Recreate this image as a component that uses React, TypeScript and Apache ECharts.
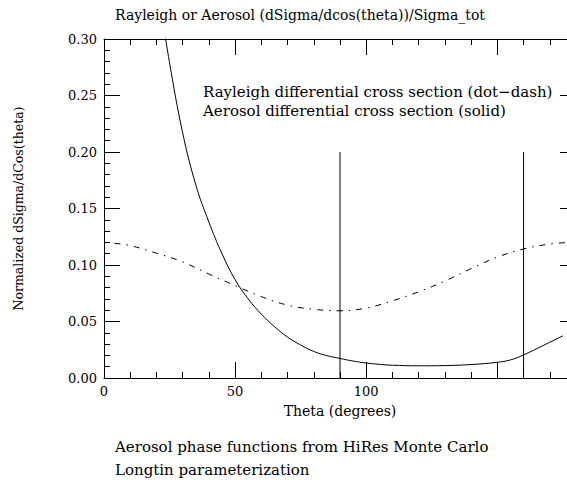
import React, { useEffect, useRef } from "react";
import * as echarts from "echarts";

const rayleighTheta = [4, 10, 20, 30, 40, 50, 60, 70, 80, 90, 100, 110, 120, 130, 140, 150, 160, 170, 176];
const rayleighValue = [0.1192, 0.1172, 0.1105, 0.1027, 0.092, 0.0818, 0.072, 0.0645, 0.0608, 0.0595, 0.0619, 0.0683, 0.0763, 0.0858, 0.0968, 0.107, 0.1142, 0.1185, 0.1198];

const aerosolTheta = [20, 25, 30, 35, 40, 45, 50, 55, 60, 65, 70, 75, 80, 85, 90, 95, 100, 105, 110, 120, 130, 140, 150, 155, 160, 167.5, 175];
const aerosolValue = [0.352, 0.279, 0.217, 0.171, 0.138, 0.11, 0.087, 0.07, 0.0565, 0.0455, 0.0362, 0.0292, 0.0235, 0.0198, 0.0173, 0.015, 0.0133, 0.0121, 0.0113, 0.0108, 0.011, 0.0119, 0.0139, 0.016, 0.0204, 0.0288, 0.0373];

const markerTheta = [90, 160];
const markerTop = 0.2;

const xLabels = [0, 50, 100, 150];

const titleText = "Rayleigh or Aerosol (dSigma/dcos(theta))/Sigma_tot";
const yName = "Normalized dSigma/dCos(theta)";
const xName = "Theta (degrees)";
const legendLines = [
  "Rayleigh differential cross section (dot\u2212dash)",
  "Aerosol differential cross section (solid)",
];
const footLines = [
  "Aerosol phase functions from HiRes Monte Carlo",
  "Longtin parameterization",
];

const FONT = "DejaVu Serif";
const INK = "#000";

export default function App() {
  const ref = useRef<HTMLDivElement>(null);
  useEffect(() => {
    if (!ref.current) return;
    document.body.style.overflow = "hidden";
    const chart = echarts.init(ref.current, undefined, { renderer: "svg" });
    const grid = { left: 104, top: 39, width: 472, height: 339 };
    const baseX = {
      type: "value" as const,
      min: 0,
      max: 180,
      gridIndex: 0,
      splitLine: { show: false },
      axisLine: { show: true, onZero: false, lineStyle: { color: INK, width: 1 } },
    };
    const xAxes = [
      {
        ...baseX,
        position: "bottom",
        interval: 10,
        axisTick: { show: true, inside: true, length: 6, lineStyle: { color: INK } },
        axisLabel: {
          show: true,
          customValues: xLabels,
          color: INK,
          fontFamily: FONT,
          fontSize: 13,
          margin: 7,
          showMaxLabel: false,
        },
        name: xName,
        nameLocation: "middle",
        nameGap: 26,
        nameTextStyle: { color: INK, fontFamily: FONT, fontSize: 14 },
      },
      {
        ...baseX,
        position: "bottom",
        interval: 50,
        axisLine: { show: false, onZero: false },
        axisTick: { show: true, inside: true, length: 16, lineStyle: { color: INK } },
        axisLabel: { show: false },
      },
      {
        ...baseX,
        position: "top",
        interval: 10,
        axisTick: { show: true, inside: true, length: 6, lineStyle: { color: INK } },
        axisLabel: { show: false },
      },
      {
        ...baseX,
        position: "top",
        interval: 50,
        axisLine: { show: false, onZero: false },
        axisTick: { show: true, inside: true, length: 16, lineStyle: { color: INK } },
        axisLabel: { show: false },
      },
    ];
    const baseY = {
      type: "value" as const,
      min: 0,
      max: 0.3,
      interval: 0.05,
      splitLine: { show: false },
      axisLine: { show: true, onZero: false, lineStyle: { color: INK, width: 1 } },
      axisTick: { show: true, inside: true, length: 16, lineStyle: { color: INK } },
      minorTick: { show: true, splitNumber: 5, length: 6, lineStyle: { color: INK } },
    };
    const yAxes = [
      {
        ...baseY,
        position: "left",
        axisLabel: {
          show: true,
          color: INK,
          fontFamily: FONT,
          fontSize: 13,
          margin: 7,
          formatter: (v: number) => v.toFixed(2),
        },
        name: yName,
        nameLocation: "middle",
        nameGap: 79,
        nameTextStyle: { color: INK, fontFamily: FONT, fontSize: 12.5 },
      },
      {
        ...baseY,
        position: "right",
        axisLabel: { show: false },
      },
    ];
    const series: any[] = [
      {
        type: "line",
        xAxisIndex: 0,
        yAxisIndex: 0,
        data: rayleighTheta.map((t, i) => [t, rayleighValue[i]]),
        showSymbol: false,
        smooth: 0.4,
        lineStyle: { color: INK, width: 1, type: [6, 6, 1.5, 6] },
        clip: true,
      },
      {
        type: "line",
        xAxisIndex: 0,
        yAxisIndex: 0,
        data: aerosolTheta.map((t, i) => [t, aerosolValue[i]]),
        showSymbol: false,
        smooth: 0.4,
        lineStyle: { color: INK, width: 1 },
        clip: true,
      },
      ...markerTheta.map((t) => ({
        type: "line",
        xAxisIndex: 0,
        yAxisIndex: 0,
        data: [
          [t, 0],
          [t, markerTop],
        ],
        showSymbol: false,
        lineStyle: { color: INK, width: 1 },
      })),
    ];
    const textStyle = (text: string, align: string, size: number) => ({
      text,
      fill: INK,
      font: `${size}px "${FONT}"`,
      textAlign: align,
      textVerticalAlign: "middle",
    });
    chart.setOption({
      animation: false,
      backgroundColor: "#fff",
      grid,
      xAxis: xAxes,
      yAxis: yAxes,
      series,
      graphic: [
        { type: "text", x: 300, y: 15, style: textStyle(titleText, "center", 14) },
        { type: "text", x: 203, y: 92, style: textStyle(legendLines[0], "left", 15) },
        { type: "text", x: 203, y: 111, style: textStyle(legendLines[1], "left", 15) },
        { type: "text", x: 115, y: 447, style: textStyle(footLines[0], "left", 15) },
        { type: "text", x: 115, y: 470, style: textStyle(footLines[1], "left", 15) },
      ],
    });
    return () => chart.dispose();
  }, []);
  return (
    <div
      ref={ref}
      style={{ position: "fixed", left: 0, top: 0, width: 600, height: 483, background: "#fff" }}
    />
  );
}
